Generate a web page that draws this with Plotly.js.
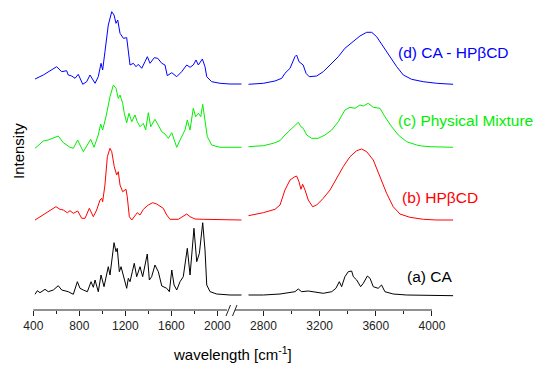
<!DOCTYPE html>
<html>
<head>
<meta charset="utf-8">
<script src="https://cdn.plot.ly/plotly-3.0.1.min.js"></script>
<style>html,body{margin:0;padding:0;background:#fff;}#chart{width:550px;height:374px;}</style>
</head>
<body>
<div id="chart"></div>
<script>
// ---------- data (wavenumber, offset intensity in arbitrary units) ----------
// (a) CA - black
const caLeftWn  = [415,435,458,502,530,574,617,647,704,748,783,806,835,870,902,922,937,965,989,1015,1052,1067,1102,1119,1130,1148,1163,1183,1212,1226,1241,1261,1278,1299,1328,1351,1371,1391,1409,1429,1458,1487,1517,1560,1583,1604,1624,1647,1676,1704,1739,1763,1797,1821,1844,1873,1893,1908,1937,1995,2111,2212];
const caLeftInt = [15.7,19.3,17.3,20.7,18.3,20,24.3,20,18.3,15.7,28.3,21.7,20,18.3,28.3,22.7,30,18.3,35,23.3,43.3,35,67.3,58.3,61.7,38.3,43.3,33.3,21.7,31.7,28.3,38.3,46.7,33.3,43.3,33.3,45,56,30,33.3,45,38.3,24,21.7,18.3,40,25,20,28.3,33.3,61.7,35,81.7,48.3,56.7,87.3,60,25,18.3,16,15,15];
const caRightWn  = [2692,2799,2918,2989,3024,3048,3072,3119,3179,3226,3286,3316,3340,3357,3380,3404,3428,3440,3464,3492,3511,3540,3559,3582,3617,3641,3665,3724,3820,3986,4152];
const caRightInt = [15,15,16,17.3,18.3,21,18.3,19,17.3,16.7,18.3,21.7,28.3,23.3,33.3,38.3,39,33.3,30,23.3,26.7,34,31.7,23.3,21.7,25,18.3,16,15,14.3,14.3];

// (b) HPβCD - red
const hpLeftWn  = [415,487,545,597,632,661,696,719,748,786,821,850,887,922,951,980,995,1003,1023,1044,1067,1082,1104,1125,1139,1154,1177,1206,1217,1235,1256,1284,1304,1328,1357,1400,1438,1473,1502,1530,1560,1589,1661,1704,1734,1763,1806,1878,1994,2111,2212];
const hpLeftInt = [90,95,99,103.3,100.7,100,97.3,99.3,96.7,99,91.7,91.7,101.7,93.3,100,110,111.7,108.3,125,153.3,161.7,158.3,143.3,135,138.3,125,118.3,120.7,113.3,93.3,90,94,97.3,95,100.7,105,107.3,106,104,101.7,95,90.7,90.7,94,96,93.3,91,90.7,90.7,90,90];
const hpRightWn  = [2692,2799,2882,2918,2953,2989,3024,3036,3053,3067,3079,3096,3119,3150,3179,3226,3274,3322,3368,3416,3464,3499,3535,3582,3630,3677,3724,3772,3843,3879,3938,4034,4152];
const hpRightInt = [94.3,97.3,100.7,105,120,130,133.3,134,128.3,120.7,125.7,120,110,103.3,105,111.7,120,131.7,143.3,153.3,159.3,161,158.3,150,133.3,116.7,103.3,96,92.7,91.7,90.7,90,90];

// (c) Physical Mixture - green
const pmLeftWn  = [415,487,530,574,617,661,719,748,786,806,835,864,899,928,965,986,1003,1032,1067,1096,1119,1139,1154,1177,1191,1212,1232,1256,1284,1304,1328,1357,1377,1400,1421,1458,1487,1517,1545,1574,1604,1624,1647,1676,1719,1739,1763,1791,1812,1835,1856,1873,1893,1913,1951,2024,2111,2212];
const pmLeftInt = [161.7,169,170,171.7,174,167.3,162.7,161.7,170,165,158.3,164,170.7,162.7,175,186,180,193.3,213.3,225,221.7,211.7,215,206.7,196.7,187.3,196.7,188.3,195,188.3,183.3,186.7,180,197.3,183.3,190.7,185,178.3,176,171.7,177.3,170,162.7,170,180,190,180,201.7,193.3,196.7,193.3,205.7,191.7,173.3,165,162.7,162.7,162.7];
const pmRightWn  = [2692,2799,2870,2918,2953,2989,3024,3048,3067,3083,3108,3143,3190,3238,3286,3333,3380,3416,3452,3487,3511,3546,3582,3630,3665,3713,3760,3820,3891,3927,3986,4152];
const pmRightInt = [163.3,164.3,166.7,169.3,175,180,185,187.7,183.3,181.7,175,171.7,171.7,175,180,188.3,200,202.7,201.7,205,204,206.7,202.7,201.7,193.3,183.3,175,168.3,165,164,163.3,162.7];

// (d) CA - HPβCD - blue
const icLeftWn  = [415,487,603,647,690,704,734,763,791,830,864,893,937,965,989,1003,1023,1052,1082,1102,1119,1134,1154,1183,1212,1221,1241,1270,1293,1313,1343,1371,1392,1415,1452,1482,1517,1545,1565,1604,1647,1690,1734,1763,1791,1815,1835,1870,1893,1908,1951,2024,2111,2212];
const icLeftInt = [231,235,243.3,238.3,239.3,235,234,231.7,235.7,225.7,228.3,235,226.7,233.3,246.7,240,258.3,285,298.3,295,286.7,290,276.7,271.7,272.3,261.7,245,246.7,243.3,245.7,241.7,248.3,253.3,246.7,252.3,251.7,246.7,245,234.3,237.3,233.3,238.3,245,242.7,245,250,245,251,243.3,233.3,228.3,226.7,226,226];
const icRightWn  = [2692,2799,2882,2930,2953,2989,3024,3036,3053,3067,3083,3103,3126,3179,3226,3274,3333,3380,3440,3487,3535,3571,3606,3653,3701,3749,3796,3855,3938,4034,4152];
const icRightInt = [225.7,226.7,229,231.7,236.7,241.7,253.3,255,248.3,246.7,245,236.7,233.3,234,238.3,245,253.3,261.7,268.3,274,277.7,277.7,273.3,263.3,253.3,243.3,235,230.7,228.3,226.7,225.7];

const seriesLabels = ["(a) CA", "(b) HPβCD", "(c) Physical Mixture", "(d) CA - HPβCD"];
const leftTicks  = [400, 800, 1200, 1600, 2000];
const leftMinor  = [600, 1000, 1400, 1800];
const rightTicks = [2800, 3200, 3600, 4000];
const rightMinor = [3000, 3400, 3800];

// ---------- layout helpers ----------
const W = 550, H = 374, PB = 310; // plot bottom pixel
const px = v => v / W;
const py = v => (PB - v) / PB;

const colors = ["#000000", "#ff0000", "#00ee00", "#0000ff"];
const sets = [
  [caLeftWn, caLeftInt, caRightWn, caRightInt],
  [hpLeftWn, hpLeftInt, hpRightWn, hpRightInt],
  [pmLeftWn, pmLeftInt, pmRightWn, pmRightInt],
  [icLeftWn, icLeftInt, icRightWn, icRightInt]
];
const traces = [];
sets.forEach((s, i) => {
  traces.push({x: s[0], y: s[1], xaxis: 'x', yaxis: 'y', mode: 'lines', name: seriesLabels[i],
    line: {color: colors[i], width: 1}, showlegend: false, hoverinfo: 'skip'});
  traces.push({x: s[2], y: s[3], xaxis: 'x2', yaxis: 'y', mode: 'lines', name: seriesLabels[i],
    line: {color: colors[i], width: 1}, showlegend: false, hoverinfo: 'skip'});
});

const FONT = 'Arial, "Liberation Sans", sans-serif';
const axCommon = {
  showline: false, showgrid: false, zeroline: false, ticks: 'outside', ticklen: 5, tickwidth: 1,
  tickcolor: '#222', tickmode: 'array', tickfont: {family: FONT, size: 12, color: '#222'}, anchor: 'y'
};
const layout = {
  width: W, height: H,
  margin: {l: 0, r: 0, t: 0, b: H - PB, pad: 0},
  paper_bgcolor: '#fff', plot_bgcolor: 'rgba(0,0,0,0)',
  font: {family: FONT, color: '#000'},
  xaxis: Object.assign({}, axCommon, {domain: [px(33.3), px(241.7)], range: [400, 2212], tickvals: leftTicks,
    minor: {tickmode: 'array', tickvals: leftMinor, ticks: 'outside', ticklen: 3, tickcolor: '#222'}}),
  xaxis2: Object.assign({}, axCommon, {domain: [px(248.3), px(453.3)], range: [2692, 4152], tickvals: rightTicks,
    minor: {tickmode: 'array', tickvals: rightMinor, ticks: 'outside', ticklen: 3, tickcolor: '#222'}}),
  yaxis: {domain: [0, 1], range: [0, PB], showticklabels: false, ticks: '', showline: false, showgrid: false, zeroline: false, fixedrange: true},
  shapes: [
    {type: 'line', xref: 'paper', yref: 'paper', x0: px(33.3), x1: px(227), y0: 0, y1: 0, line: {color: '#222', width: 1}},
    {type: 'line', xref: 'paper', yref: 'paper', x0: px(235), x1: px(432), y0: 0, y1: 0, line: {color: '#222', width: 1}},
    {type: 'line', xref: 'paper', yref: 'paper', x0: px(226), x1: px(230.5), y0: py(316), y1: py(305), line: {color: '#222', width: 1}},
    {type: 'line', xref: 'paper', yref: 'paper', x0: px(232.5), x1: px(237), y0: py(316), y1: py(305), line: {color: '#222', width: 1}}
  ],
  annotations: [
    {text: seriesLabels[3], x: px(396), y: py(52.7), xref: 'paper', yref: 'paper', xanchor: 'left', yanchor: 'middle', showarrow: false, font: {size: 15.5, color: '#0000ff', family: FONT}},
    {text: seriesLabels[2], x: px(396), y: py(120.7), xref: 'paper', yref: 'paper', xanchor: 'left', yanchor: 'middle', showarrow: false, font: {size: 15.5, color: '#00ee00', family: FONT}},
    {text: seriesLabels[1], x: px(400), y: py(197.3), xref: 'paper', yref: 'paper', xanchor: 'left', yanchor: 'middle', showarrow: false, font: {size: 15.5, color: '#ff0000', family: FONT}},
    {text: seriesLabels[0], x: px(405), y: py(276), xref: 'paper', yref: 'paper', xanchor: 'left', yanchor: 'middle', showarrow: false, font: {size: 15.5, color: '#000000', family: FONT}},
    {text: 'wavelength [cm<sup>-1</sup>]', x: px(232), y: py(353), xref: 'paper', yref: 'paper', xanchor: 'center', yanchor: 'middle', showarrow: false, font: {size: 15, color: '#000', family: FONT}},
    {text: 'Intensity', x: px(18), y: py(151), xref: 'paper', yref: 'paper', xanchor: 'center', yanchor: 'middle', textangle: -90, showarrow: false, font: {size: 15, color: '#000', family: FONT}}
  ]
};
Plotly.newPlot('chart', traces, layout, {staticPlot: true, displayModeBar: false});
</script>
</body>
</html>
